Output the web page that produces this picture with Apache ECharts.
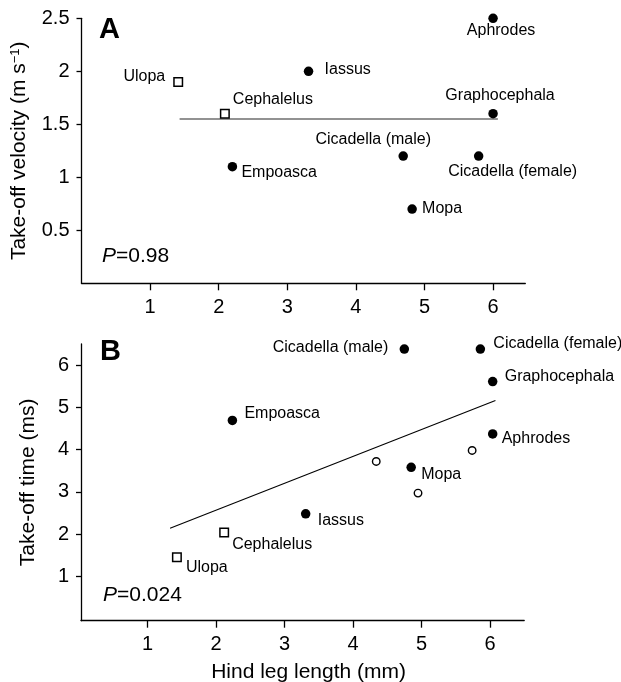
<!DOCTYPE html>
<html>
<head>
<meta charset="utf-8">
<script src="https://cdn.jsdelivr.net/npm/echarts@6/dist/echarts.min.js"></script>
<style>
html, body { margin: 0; padding: 0; background: #fff; }
#chart { width: 621px; height: 682px; }
</style>
</head>
<body>
<div id="chart"></div>
<script>
// panel A - take-off velocity vs hind leg length
const namesA = ['Ulopa', 'Cephalelus', 'Iassus', 'Empoasca', 'Aphrodes', 'Graphocephala', 'Cicadella (male)', 'Cicadella (female)', 'Mopa'];
const groupA = ['ulopid', 'ulopid', 'cicadellid', 'cicadellid', 'cicadellid', 'cicadellid', 'cicadellid', 'cicadellid', 'cicadellid'];
const legA = [1.41, 2.09, 3.31, 2.20, 6.00, 6.00, 4.69, 5.79, 4.82];
const velocityA = [1.9, 1.6, 2.0, 1.1, 2.5, 1.6, 1.2, 1.2, 0.7];
const fitLegA = [1.43, 6.07];
const fitVelocityA = [1.55, 1.55];

// panel B - take-off time vs hind leg length
const namesB = ['Ulopa', 'Cephalelus', 'Iassus', 'Empoasca', 'Aphrodes', 'Graphocephala', 'Cicadella (male)', 'Cicadella (female)', 'Mopa', '', '', ''];
const groupB = ['ulopid', 'ulopid', 'cicadellid', 'cicadellid', 'cicadellid', 'cicadellid', 'cicadellid', 'cicadellid', 'cicadellid', 'unnamed', 'unnamed', 'unnamed'];
const legB = [1.43, 2.12, 3.31, 2.24, 6.04, 6.04, 4.75, 5.86, 4.85, 4.34, 5.74, 4.95];
const timeB = [1.45, 2.04, 2.48, 4.69, 4.37, 5.61, 6.38, 6.38, 3.58, 3.72, 3.98, 2.97];
const fitLegB = [1.33, 6.08];
const fitTimeB = [2.14, 5.16];

const legTicks = [1, 2, 3, 4, 5, 6];
const velocityTicks = [0.5, 1, 1.5, 2, 2.5];
const timeTicks = [1, 2, 3, 4, 5, 6];

const FONT = '"Liberation Sans", Arial, Helvetica, sans-serif';

// where each species name sits relative to its marker: [align, dx, dy]
const labelLayoutA = {
  'Ulopa': ['right', -13, -5],
  'Cephalelus': ['left', 8, -14],
  'Iassus': ['left', 16, -2],
  'Empoasca': ['left', 9, 6],
  'Aphrodes': ['center', 8, 12],
  'Graphocephala': ['center', 7, -18],
  'Cicadella (male)': ['center', -30, -17],
  'Cicadella (female)': ['center', 34, 15],
  'Mopa': ['left', 10, -1]
};
const labelLayoutB = {
  'Ulopa': ['left', 9, 10],
  'Cephalelus': ['left', 8, 12],
  'Iassus': ['left', 12, 7],
  'Empoasca': ['left', 12, -7],
  'Aphrodes': ['left', 9, 5],
  'Graphocephala': ['left', 12, -5],
  'Cicadella (male)': ['right', -16, -1],
  'Cicadella (female)': ['left', 13, -5],
  'Mopa': ['left', 10, 7]
};

const groupStyle = {
  cicadellid: { symbol: 'circle', symbolSize: 9.5, itemStyle: { color: '#000', opacity: 1 } },
  ulopid: { symbol: 'rect', symbolSize: 8.5, itemStyle: { color: '#fff', borderColor: '#000', borderWidth: 1.5, opacity: 1 } },
  unnamed: { symbol: 'circle', symbolSize: 7.5, itemStyle: { color: '#fff', borderColor: '#000', borderWidth: 1.4, opacity: 1 } }
};

const pointSeries = (panel, names, groups, xs, ys, layout) => {
  return Object.keys(groupStyle).filter(g => groups.includes(g)).map(g => ({
    type: 'scatter',
    xAxisIndex: panel,
    yAxisIndex: panel,
    symbol: groupStyle[g].symbol,
    symbolSize: groupStyle[g].symbolSize,
    itemStyle: groupStyle[g].itemStyle,
    z: 3,
    data: names.map((n, i) => ({ n, i })).filter(d => groups[d.i] === g).map(d => {
      const item = { name: d.n, value: [xs[d.i], ys[d.i]] };
      if (d.n && layout[d.n]) {
        const l = layout[d.n];
        item.label = {
          show: true, position: 'inside', formatter: '{b}', align: l[0], verticalAlign: 'middle',
          offset: [l[1], l[2]], color: '#000', fontSize: 16, fontFamily: FONT
        };
      }
      return item;
    })
  }));
};

const fitSeries = (panel, xs, ys, color, width) => ({
  type: 'line',
  xAxisIndex: panel,
  yAxisIndex: panel,
  showSymbol: false,
  z: 2,
  lineStyle: { color: color, width: width },
  data: xs.map((x, i) => [x, ys[i]])
});

const axisLineStyle = { color: '#000', width: 1.3 };
const tickLabelStyle = { color: '#000', fontSize: 20, fontFamily: FONT };

const makeX = (gridIndex, min, max, name) => ({
  gridIndex, type: 'value', min, max,
  name: name || '', nameLocation: 'middle', nameGap: 41,
  nameTextStyle: { color: '#000', fontSize: 21, fontFamily: FONT, padding: [0, 0, 0, 12] },
  axisLine: { show: true, onZero: false, lineStyle: axisLineStyle },
  axisTick: { show: true, customValues: legTicks, length: 7, lineStyle: axisLineStyle },
  axisLabel: Object.assign({ customValues: legTicks, margin: 14 }, tickLabelStyle),
  splitLine: { show: false }
});

const makeY = (gridIndex, min, max, ticks, name, gap, rich) => ({
  gridIndex, type: 'value', min, max,
  name, nameLocation: 'middle', nameGap: gap, nameRotate: 90,
  nameTextStyle: { color: '#000', fontSize: 21, fontFamily: FONT, rich: rich },
  axisLine: { show: true, onZero: false, lineStyle: axisLineStyle },
  axisTick: { show: true, customValues: ticks, length: 5, lineStyle: axisLineStyle },
  axisLabel: Object.assign({ customValues: ticks, margin: 12 }, tickLabelStyle),
  splitLine: { show: false }
});

const chart = echarts.init(document.getElementById('chart'));
chart.setOption({
  animation: false,
  backgroundColor: '#fff',
  grid: [
    { left: 81.5, top: 18.3, width: 443.8, height: 265, outerBoundsMode: 'none' },
    { left: 81, top: 344, width: 443.2, height: 276.7, outerBoundsMode: 'none' }
  ],
  xAxis: [
    makeX(0, 0, 6.47),
    makeX(1, 0.03, 6.5, 'Hind leg length (mm)')
  ],
  yAxis: [
    makeY(0, 0, 2.5, velocityTicks, '{a|Take-off velocity (m s}{s|−1}{a|)}', 52, {
      a: { fontSize: 21, fontFamily: FONT, color: '#000' },
      s: { fontSize: 13, fontFamily: FONT, color: '#000', verticalAlign: 'top' }
    }),
    makeY(1, -0.05, 6.5, timeTicks, 'Take-off time (ms)', 42)
  ],
  graphic: [
    { type: 'text', x: 99, y: 30, style: { text: 'A', font: 'bold 29px ' + FONT, fill: '#000', verticalAlign: 'middle' } },
    { type: 'text', x: 100, y: 352, style: { text: 'B', font: 'bold 29px ' + FONT, fill: '#000', verticalAlign: 'middle' } },
    { type: 'text', x: 102, y: 256, style: { text: '{i|P}=0.98', font: '21px ' + FONT, fill: '#000', verticalAlign: 'middle',
      rich: { i: { fontStyle: 'italic', fontSize: 21, fontFamily: FONT } } } },
    { type: 'text', x: 103, y: 595, style: { text: '{i|P}=0.024', font: '21px ' + FONT, fill: '#000', verticalAlign: 'middle',
      rich: { i: { fontStyle: 'italic', fontSize: 21, fontFamily: FONT } } } }
  ],
  series: [
    fitSeries(0, fitLegA, fitVelocityA, '#6e6e6e', 1.5),
    fitSeries(1, fitLegB, fitTimeB, '#000', 1.1),
    ...pointSeries(0, namesA, groupA, legA, velocityA, labelLayoutA),
    ...pointSeries(1, namesB, groupB, legB, timeB, labelLayoutB)
  ]
});
</script>
</body>
</html>
